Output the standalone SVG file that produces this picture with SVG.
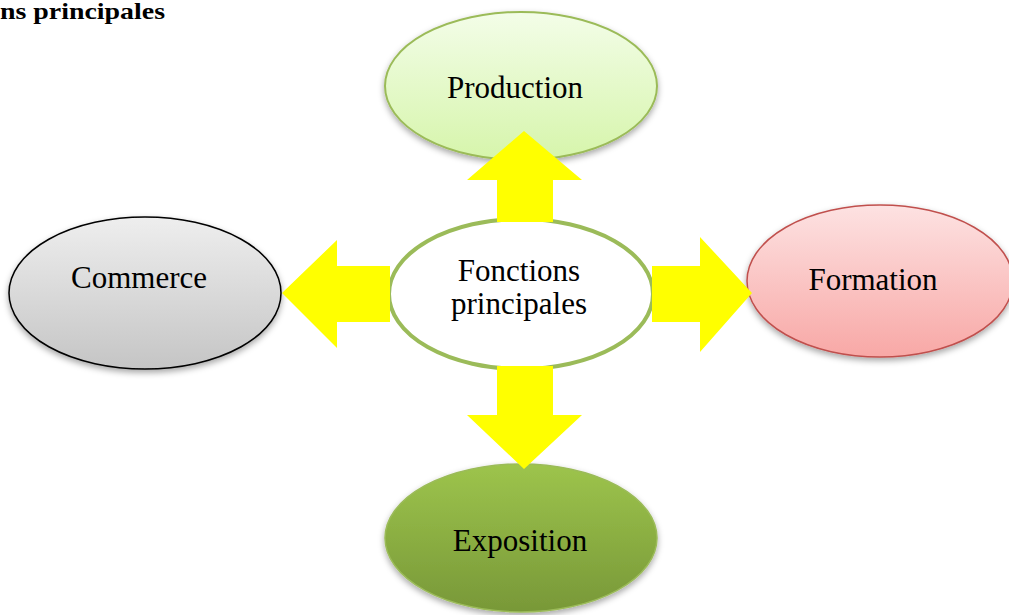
<svg xmlns="http://www.w3.org/2000/svg" width="1009" height="615" viewBox="0 0 1009 615">
<defs>
<linearGradient id="gProd" x1="0" y1="0" x2="0" y2="1"><stop offset="0" stop-color="#f3fde8"/><stop offset="1" stop-color="#d6f5ab"/></linearGradient>
<linearGradient id="gExpo" x1="0" y1="0" x2="0" y2="1"><stop offset="0" stop-color="#9dc44c"/><stop offset="1" stop-color="#789838"/></linearGradient>
<linearGradient id="gComm" x1="0" y1="0" x2="0" y2="1"><stop offset="0" stop-color="#eeeeee"/><stop offset="1" stop-color="#c5c5c5"/></linearGradient>
<linearGradient id="gForm" x1="0" y1="0" x2="0" y2="1"><stop offset="0" stop-color="#fde2e2"/><stop offset="1" stop-color="#f8a8a6"/></linearGradient>
<filter id="sh" x="-10%" y="-10%" width="120%" height="130%"><feDropShadow dx="0" dy="3" stdDeviation="3" flood-color="#000" flood-opacity="0.35"/></filter>
<style>
.lbl{font-family:"Liberation Serif","Times New Roman",serif;font-size:31px;fill:#000;text-anchor:middle}
.ttl{font-family:"Liberation Serif","Times New Roman",serif;font-size:24px;font-weight:bold;fill:#000}
.arr{fill:#ffff00}
</style>
</defs>
<text class="ttl" x="0" y="19" textLength="165" lengthAdjust="spacingAndGlyphs">ns principales</text>
<g id="production"><ellipse cx="521" cy="86" rx="136" ry="74" fill="url(#gProd)" stroke="#9bbb59" stroke-width="2" filter="url(#sh)"/><text class="lbl" x="515" y="98">Production</text></g>
<g id="exposition"><ellipse cx="521" cy="538" rx="136" ry="74" fill="url(#gExpo)" stroke="#9bbb59" stroke-width="1.5" filter="url(#sh)"/><text class="lbl" x="520" y="551">Exposition</text></g>
<g id="commerce"><ellipse cx="145" cy="293" rx="136" ry="76" fill="url(#gComm)" stroke="#000" stroke-width="1.5" filter="url(#sh)"/><text class="lbl" x="139" y="288">Commerce</text></g>
<g id="formation"><ellipse cx="880" cy="281" rx="133" ry="76" fill="url(#gForm)" stroke="#c0504d" stroke-width="1.5" filter="url(#sh)"/><text class="lbl" x="873" y="290">Formation</text></g>
<g id="centre"><ellipse cx="521" cy="294" rx="132" ry="75" fill="#fff" stroke="#9bbb59" stroke-width="4"/><text class="lbl" x="519" y="281">Fonctions</text><text class="lbl" x="519" y="314">principales</text></g>
<g id="connectors">
<polygon class="arr" points="497,222 497,180 467,180 524,131 582,180 553,180 553,222"/>
<polygon class="arr" points="497,366 497,415 467,415 524,469 582,415 553,415 553,366"/>
<polygon class="arr" points="390,266 337,266 337,240 282,293 337,348 337,322 390,322"/>
<polygon class="arr" points="652,266 700,266 700,237 752,293 700,352 700,322 652,322"/>
</g>
</svg>
